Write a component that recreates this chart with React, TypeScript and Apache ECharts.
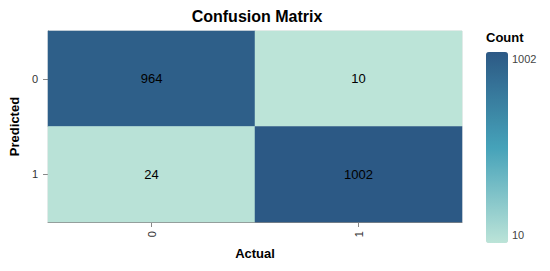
import React, { useEffect, useRef } from "react";
import * as echarts from "echarts";

const actualCats = ["0", "1"];
const predictedCats = ["0", "1"];
// [actualIndex, predictedIndex, count]
const cellValues: [number, number, number][] = [
  [0, 0, 964],
  [1, 0, 10],
  [0, 1, 24],
  [1, 1, 1002],
];
const countMin = 10;
const countMax = 1002;
const schemeColors = ["#bce4d8", "#45a2b9", "#2c5985"];

export default function App() {
  const ref = useRef<HTMLDivElement>(null);
  useEffect(() => {
    if (!ref.current) return;
    const chart = echarts.init(ref.current, undefined, { renderer: "svg" });
    const font = "Liberation Sans, Arial, sans-serif";
    chart.setOption({
      animation: false,
      textStyle: { fontFamily: font },
      title: {
        text: "Confusion Matrix",
        left: 252,
        textAlign: "center",
        top: 3,
        textStyle: { fontSize: 16, fontWeight: "bold", color: "#000", fontFamily: font },
      },
      grid: {
        left: 42,
        right: 88,
        top: 31,
        bottom: 49,
        show: true,
        borderColor: "#ddd",
        borderWidth: 1,
        backgroundColor: "transparent",
      },
      xAxis: {
        type: "category",
        data: actualCats,
        name: "Actual",
        nameLocation: "middle",
        nameGap: 25,
        nameTextStyle: { fontSize: 13, fontWeight: "bold", color: "#000" },
        axisLine: { show: true, lineStyle: { color: "#888", width: 1 } },
        axisTick: { show: true, alignWithLabel: true, length: 5, lineStyle: { color: "#888" } },
        axisLabel: { rotate: 90, color: "#333", fontSize: 11, margin: 9 },
        splitArea: { show: false },
      },
      yAxis: {
        type: "category",
        data: predictedCats,
        inverse: true,
        name: "Predicted",
        nameLocation: "middle",
        nameGap: 26,
        nameRotate: 90,
        nameTextStyle: { fontSize: 13, fontWeight: "bold", color: "#000" },
        axisLine: { show: true, lineStyle: { color: "#888", width: 1 } },
        axisTick: { show: true, alignWithLabel: true, length: 5, lineStyle: { color: "#888" } },
        axisLabel: { color: "#333", fontSize: 11, margin: 10 },
      },
      visualMap: {
        type: "continuous",
        min: countMin,
        max: countMax,
        calculable: false,
        orient: "vertical",
        left: 486,
        top: 52,
        itemWidth: 22,
        itemHeight: 191,
        text: ["", ""],
        showLabel: false,
        padding: 0,
        inRange: { color: schemeColors },
      },
      graphic: [
        {
          type: "text",
          left: 486,
          top: 31,
          style: { text: "Count", font: `bold 13px ${font}`, fill: "#000" },
        },
        {
          type: "text",
          left: 512,
          top: 53,
          style: { text: String(countMax), font: `11px ${font}`, fill: "#444" },
        },
        {
          type: "text",
          left: 512,
          top: 229,
          style: { text: String(countMin), font: `11px ${font}`, fill: "#444" },
        },
      ],
      series: [
        {
          type: "heatmap",
          data: cellValues,
          label: { show: true, color: "#000", fontSize: 13, fontFamily: font },
          itemStyle: { borderWidth: 0 },
          emphasis: { disabled: true },
        },
      ],
    });
    return () => chart.dispose();
  }, []);
  return <div ref={ref} style={{ width: 550, height: 271, position: "absolute", left: 0, top: 0 }} />;
}
